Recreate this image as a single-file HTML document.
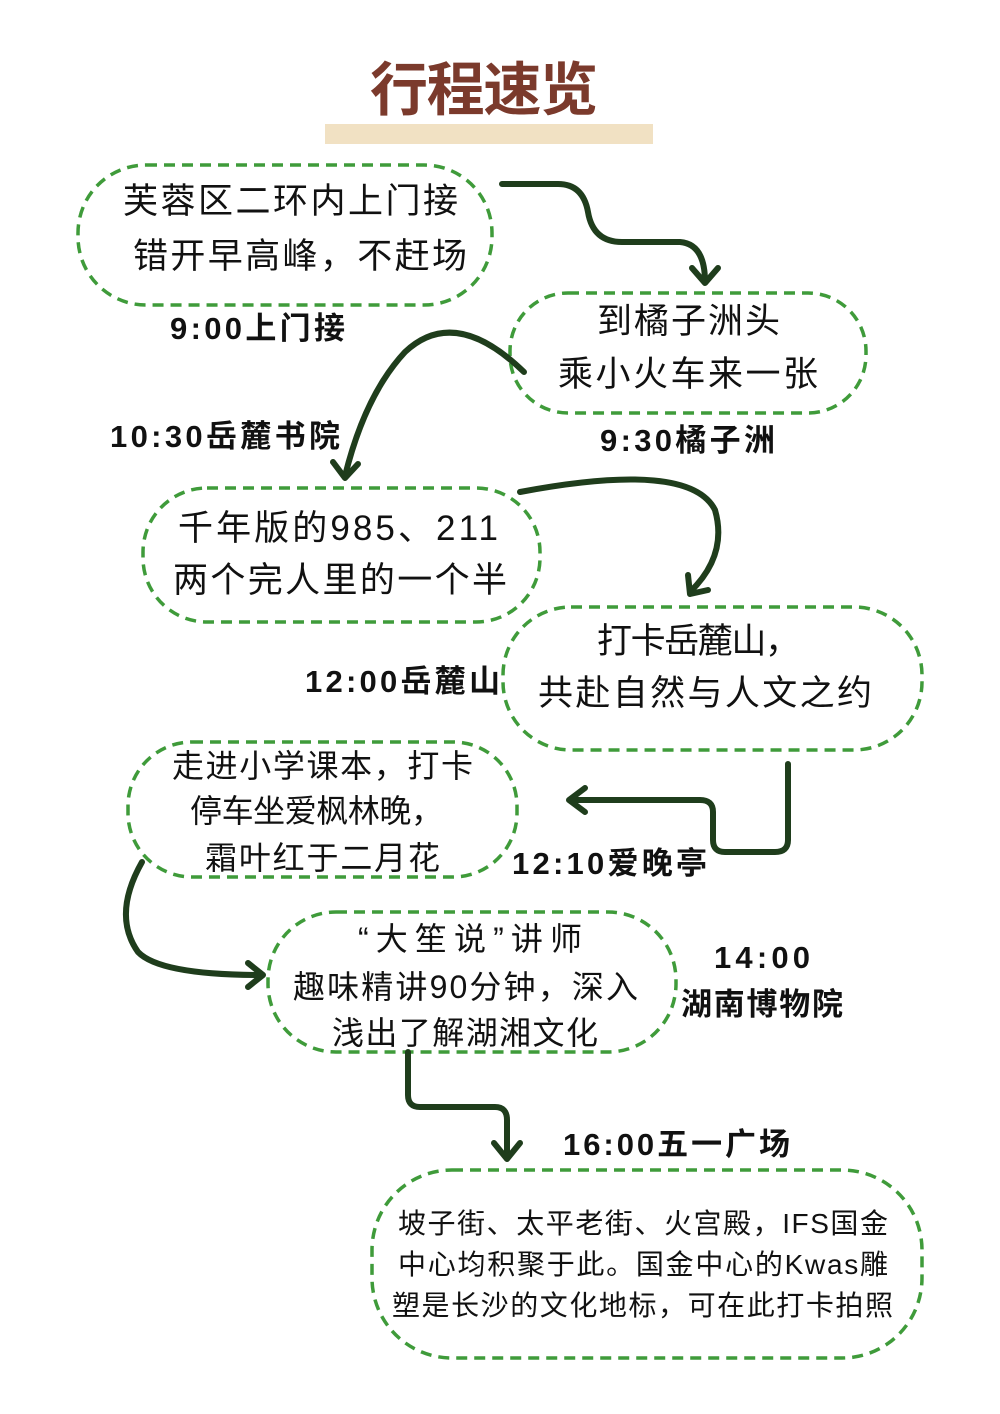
<!DOCTYPE html>
<html><head><meta charset="utf-8"><style>
html,body{margin:0;padding:0;background:#fff}
svg{display:block}
text{font-family:"Liberation Sans","Noto Sans CJK SC",sans-serif}
.b{fill:#111;font-size:35px}
.m{fill:#111;font-size:32px}
.s{fill:#111;font-size:28px}
.l{fill:#111;font-size:31px;font-weight:bold}
.r{fill:none;stroke:#3f9b3a;stroke-width:3.5;stroke-dasharray:11 7}
.a{fill:none;stroke:#1f3d1c;stroke-width:6;stroke-linecap:round;stroke-linejoin:round}
</style></head><body>
<svg width="1000" height="1414" viewBox="0 0 1000 1414">
<text x="370" y="110" style="font-size:58px;font-weight:bold" fill="#7b3a2c" textLength="228">行程速览</text>
<rect x="325" y="124" width="328" height="20" fill="#f1e1c3"/>

<rect class="r" x="78" y="165" width="414" height="140" rx="68"/>
<rect class="r" x="510" y="293" width="356" height="120" rx="58"/>
<rect class="r" x="143" y="488" width="397" height="134" rx="64"/>
<rect class="r" x="503" y="607" width="419" height="143" rx="68"/>
<rect class="r" x="128" y="742" width="389" height="135" rx="64"/>
<rect class="r" x="268" y="912" width="408" height="140" rx="68"/>
<rect class="r" x="372" y="1170" width="550" height="188" rx="80"/>

<text class="b" x="123" y="213" textLength="335">芙蓉区二环内上门接</text>
<text class="b" x="133" y="268" textLength="334">错开早高峰，不赶场</text>
<text class="b" x="597" y="333" textLength="183">到橘子洲头</text>
<text class="b" x="558" y="386" textLength="260">乘小火车来一张</text>
<text class="b" x="178" y="540" textLength="320">千年版的985、211</text>
<text class="b" x="173" y="592" textLength="334">两个完人里的一个半</text>
<text class="b" x="597" y="653" textLength="203">打卡岳麓山，</text>
<text class="b" x="538" y="705" textLength="334">共赴自然与人文之约</text>
<text class="m" x="172" y="777" textLength="301">走进小学课本，打卡</text>
<text class="m" x="190" y="822" textLength="253">停车坐爱枫林晚，</text>
<text class="m" x="205" y="869" textLength="235">霜叶红于二月花</text>
<text class="m" x="358" y="950" textLength="224">“大笙说”讲师</text>
<text class="m" x="293" y="998" textLength="345">趣味精讲90分钟，深入</text>
<text class="m" x="332" y="1044" textLength="266">浅出了解湖湘文化</text>
<text class="s" x="398" y="1233" textLength="490">坡子街、太平老街、火宫殿，IFS国金</text>
<text class="s" x="398" y="1274" textLength="490">中心均积聚于此。国金中心的Kwas雕</text>
<text class="s" x="392" y="1315" textLength="501">塑是长沙的文化地标，可在此打卡拍照</text>

<text class="l" x="170" y="339" textLength="175">9:00上门接</text>
<text class="l" x="110" y="447" textLength="230">10:30岳麓书院</text>
<text class="l" x="600" y="451" textLength="175">9:30橘子洲</text>
<text class="l" x="305" y="692" textLength="195">12:00岳麓山</text>
<text class="l" x="512" y="874" textLength="195">12:10爱晚亭</text>
<text class="l" x="714" y="968" textLength="96">14:00</text>
<text class="l" x="681" y="1015" textLength="162">湖南博物院</text>
<text class="l" x="563" y="1155" textLength="227">16:00五一广场</text>

<path class="a" d="M502 184 L558 184 Q583 184 588 212 Q593 242 622 242 L680 242 Q705 244 705 282"/>
<path class="a" d="M692 268 L705 283 L718 268"/>
<path class="a" d="M524 372 Q455 305 405 352 Q365 395 345 476"/>
<path class="a" d="M333 462 L345 478 L358 464"/>
<path class="a" d="M520 492 Q690 460 715 510 Q728 555 690 592"/>
<path class="a" d="M688 575 L690 594 L708 590"/>
<path class="a" d="M788 764 L788 840 Q788 852 775 852 L725 852 Q713 852 713 840 L713 812 Q713 800 700 800 L570 800"/>
<path class="a" d="M585 788 L569 800 L585 812"/>
<path class="a" d="M142 862 Q112 915 138 952 Q160 975 262 975"/>
<path class="a" d="M248 963 L263 975 L248 987"/>
<path class="a" d="M408 1052 L408 1095 Q408 1107 420 1107 L495 1107 Q507 1107 507 1120 L507 1158"/>
<path class="a" d="M494 1143 L507 1159 L520 1143"/>
</svg>
</body></html>
